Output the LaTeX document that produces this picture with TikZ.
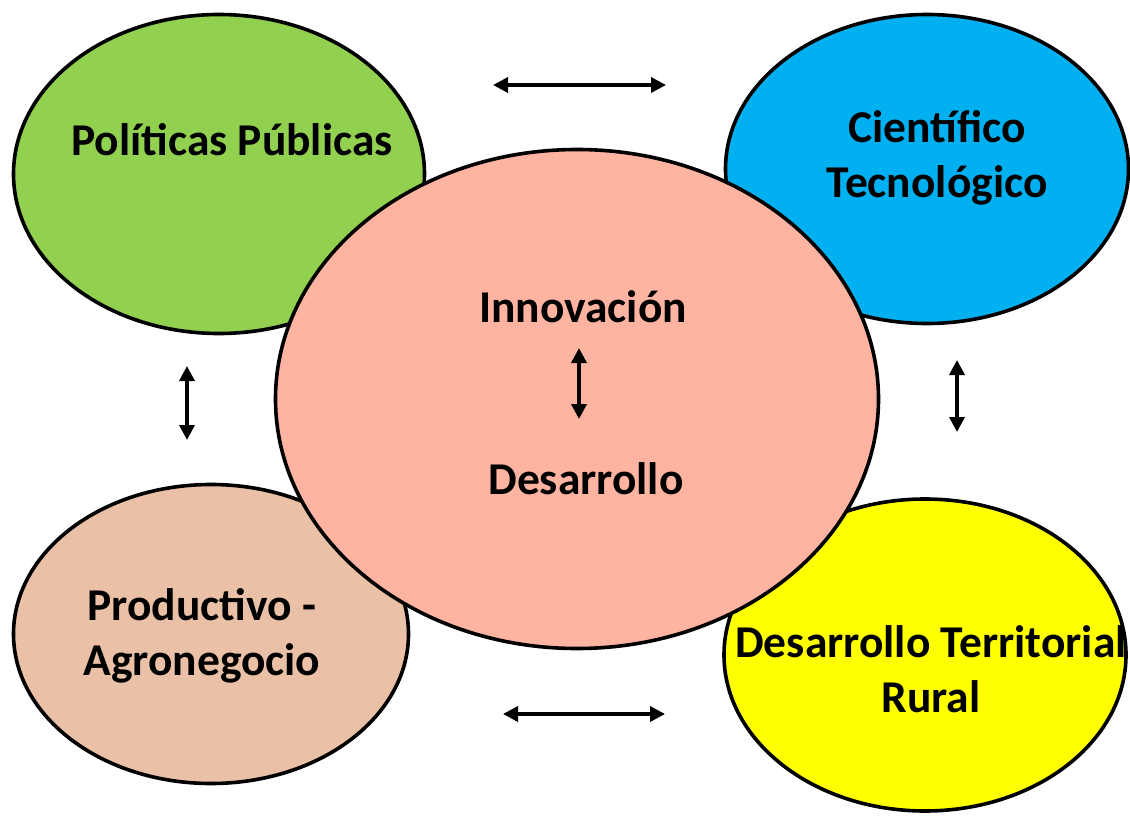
\documentclass[tikz,border=0pt]{standalone}
\usepackage{fontspec}
\setmainfont{Carlito}
\usetikzlibrary{shapes.geometric,arrows.meta,positioning}
\definecolor{verde}{RGB}{146,208,80}
\definecolor{celeste}{RGB}{0,176,240}
\definecolor{beige}{RGB}{234,193,166}
\definecolor{salmon}{RGB}{255,180,162}
\definecolor{amarillo}{RGB}{255,255,0}

\begin{document}
\begin{tikzpicture}[x=1pt,y=-1pt,<->,>={Triangle[length=15pt,width=15pt]},line width=3.5pt,
    area/.style={ellipse,draw,line width=3.6pt,inner sep=0pt},
    main text/.style={font=\fontsize{45.5}{55}\selectfont\bfseries,align=center,anchor=base}]

            \useasboundingbox (0,0) rectangle (1130,816);

            \node[area, fill=verde, minimum width=411pt, minimum height=319pt]  (pol) at (219,174) {};
            \node[area, fill=celeste, minimum width=403pt, minimum height=309pt]  (cien) at (927,169) {};
            \node[area, fill=beige, minimum width=395pt, minimum height=299pt]  (prod) at (211,634) {};
            \node[area, fill=amarillo, minimum width=402pt, minimum height=312pt]  (terr) at (925,655) {};
            \node[area, fill=salmon, minimum width=603pt, minimum height=499pt]  (centro) at (577,399) {};

            % en los textos de dos lineas la base es la ultima linea
            \node[main text] (tpol) at (232,155) {Políticas Públicas};
            \node[main text] (tcien) at (937,197) {Científico\\Tecnológico};
            \node[main text] (tprod) at (202,675) {Productivo -\\Agronegocio};
            \node[main text] (tterr) at (931,712) {Desarrollo Territorial\\Rural};

            \node[main text] (inno) at (583,322) {Innovación};
            \node[main text] (desa) at (586,494) {Desarrollo};

            \coordinate (a1) at (493,85);
            \coordinate (a2) at (666,85);
            \coordinate (b1) at (503,714);
            \coordinate (b2) at (665,714);
            \coordinate (c1) at (187,366);
            \coordinate (c2) at (187,440);
            \coordinate (d1) at (957,360);
            \coordinate (d2) at (957,432);
            \coordinate (e1) at (579,348);
            \coordinate (e2) at (579,419);

            \draw (a1) -- (a2);
            \draw (b1) -- (b2);
            \draw (c1) -- (c2);
            \draw (d1) -- (d2);
            \draw (e1) -- (e2);

        \end{tikzpicture}
\end{document}
